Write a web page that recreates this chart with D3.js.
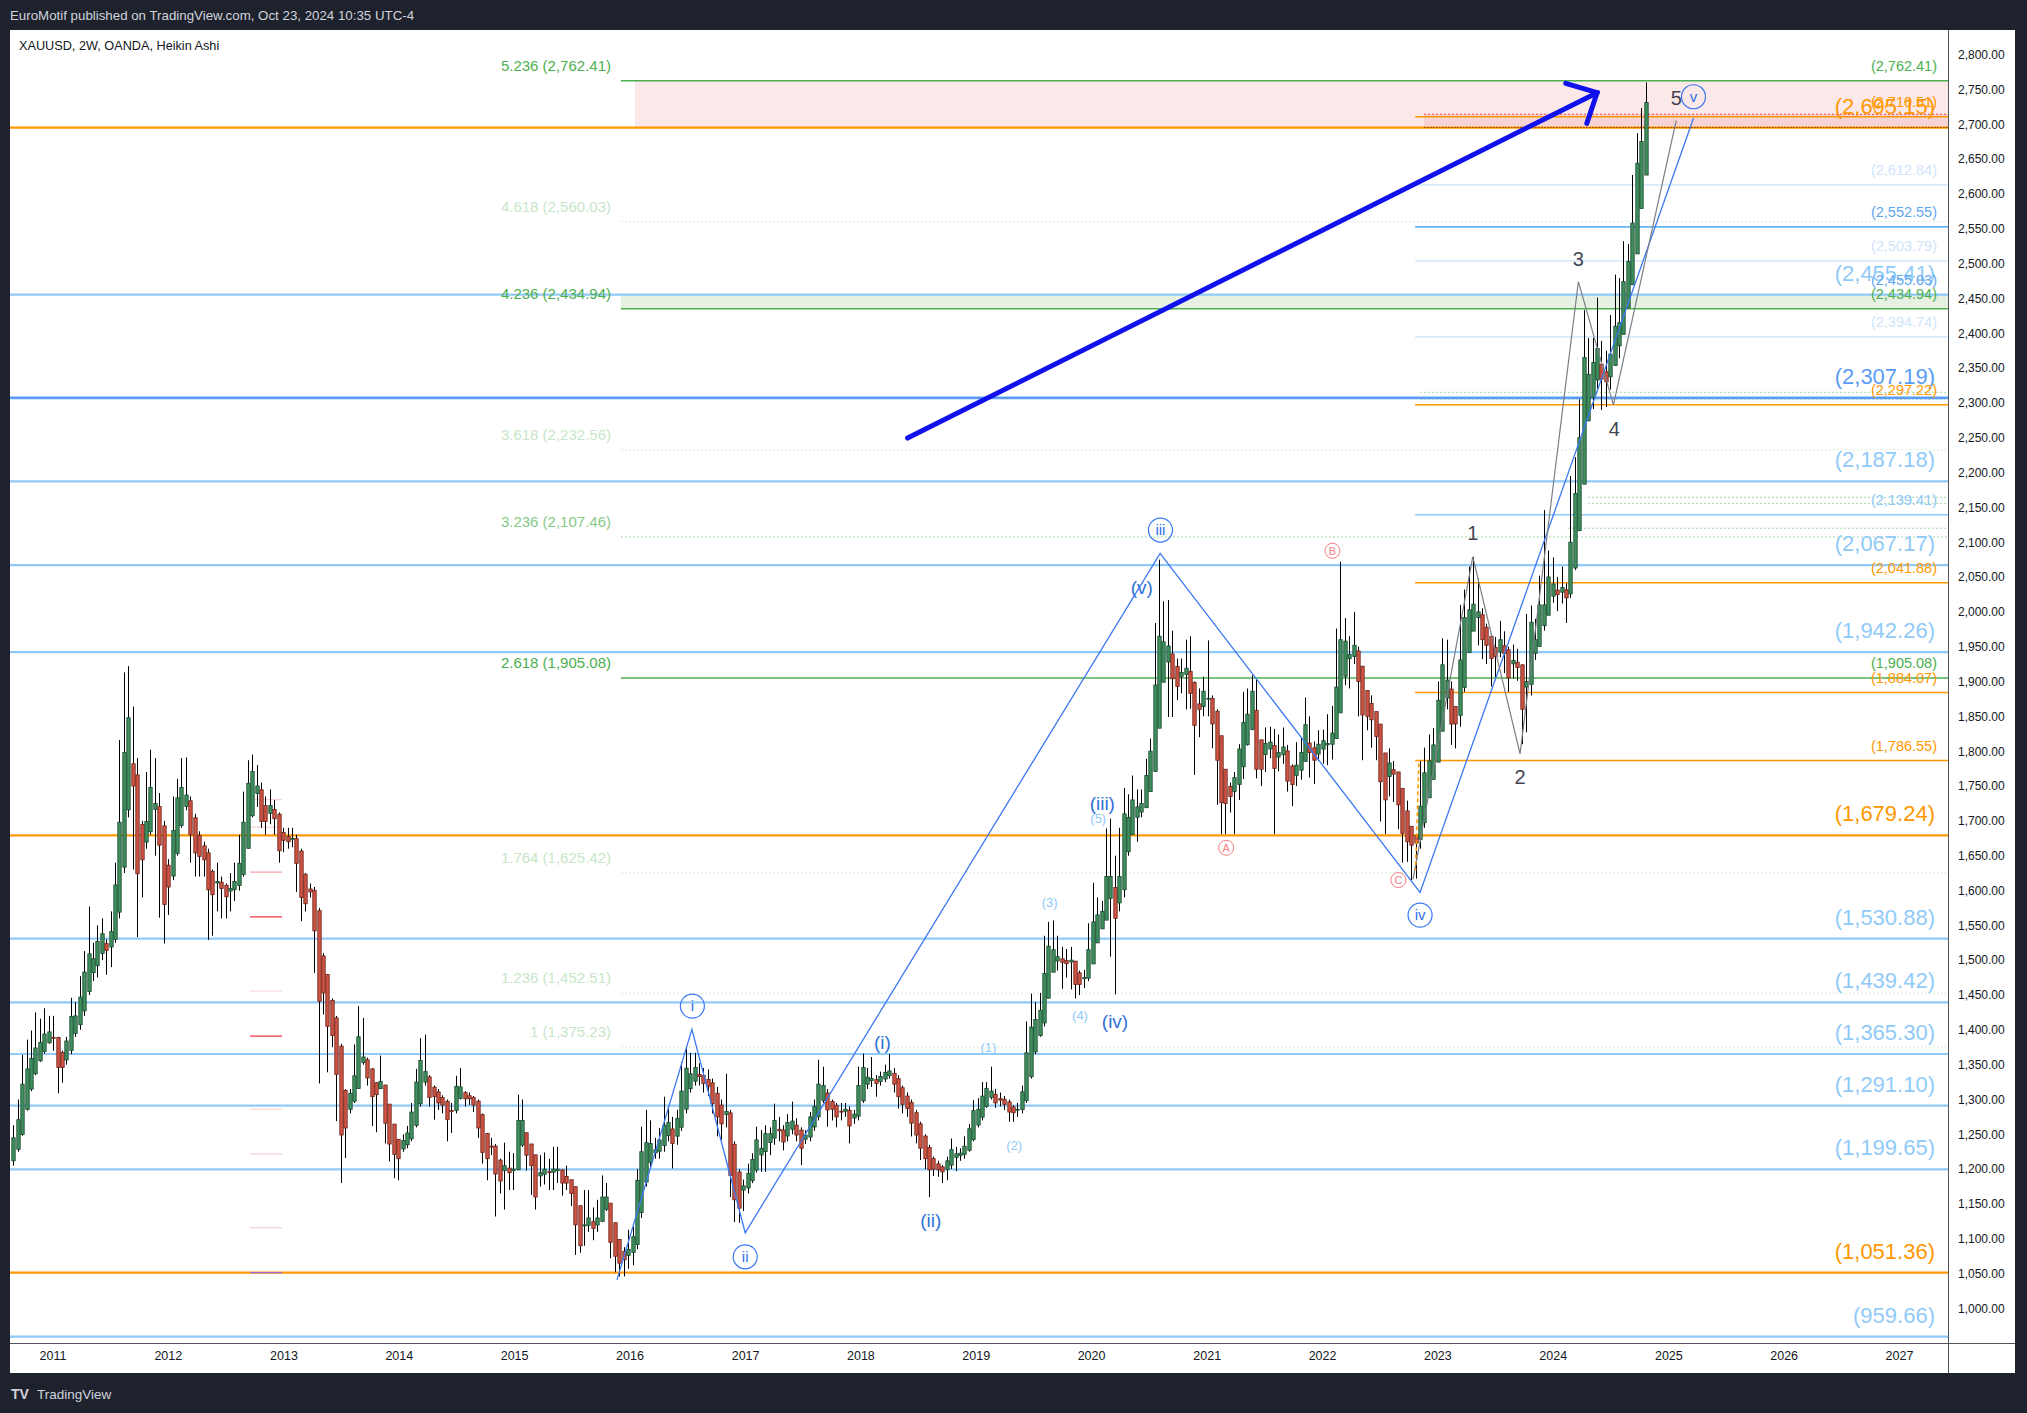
<!DOCTYPE html>
<html><head><meta charset="utf-8">
<script src="https://cdnjs.cloudflare.com/ajax/libs/d3/7.8.5/d3.min.js"></script>
<style>html,body{margin:0;padding:0;background:#1e222d;}svg{display:block;}</style>
</head><body>
<svg id="c" width="2027" height="1413"></svg>
<script>
// ---------------- DATA ----------------
const barStartDate = "2010-08-30";      // first 2-week Heikin Ashi bar
const firstOpen = 1212;
const haClose = [
1245,1271,1322,1344,1359,1374,1382,1394,1397,1389,
1346,1346,1384,1419,1420,1447,1483,1509,1502,1527,
1538,1514,1541,1608,1698,1798,1848,1750,1624,1644,
1699,1748,1725,1665,1580,1605,1686,1733,1748,1737,
1680,1654,1649,1644,1601,1594,1613,1603,1591,1603,
1613,1639,1698,1754,1771,1750,1699,1699,1722,1703,
1657,1672,1670,1675,1639,1590,1581,1598,1542,1441,
1453,1405,1392,1336,1249,1259,1309,1334,1390,1361,
1331,1304,1307,1326,1266,1236,1221,1215,1241,1252,
1282,1325,1356,1340,1303,1304,1295,1292,1271,1284,
1319,1318,1301,1301,1292,1259,1224,1215,1233,1193,
1183,1205,1195,1200,1270,1270,1220,1205,1160,1195,
1200,1195,1200,1200,1180,1180,1165,1120,1090,1120,
1130,1115,1130,1160,1160,1095,1075,1065,1070,1085,
1103,1184,1225,1238,1237,1228,1242,1263,1267,1237,
1273,1312,1345,1337,1346,1333,1323,1319,1294,1275,
1265,1283,1191,1156,1144,1176,1194,1214,1242,1230,
1251,1251,1270,1255,1239,1267,1269,1249,1230,1249,
1275,1290,1322,1320,1285,1286,1275,1283,1286,1262,
1279,1320,1346,1332,1330,1323,1333,1339,1341,1322,
1304,1293,1287,1266,1249,1230,1215,1199,1200,1199,
1196,1212,1228,1222,1223,1233,1258,1284,1286,1305,
1316,1312,1295,1299,1293,1282,1281,1286,1311,1367,
1404,1415,1428,1481,1520,1515,1505,1497,1495,1500,
1465,1465,1475,1515,1555,1565,1570,1620,1620,1560,
1620,1710,1705,1730,1720,1725,1765,1800,1895,1965,
1957,1951,1904,1893,1913,1919,1883,1837,1860,1886,
1876,1839,1787,1726,1725,1735,1762,1803,1841,1853,
1886,1774,1774,1811,1813,1775,1798,1806,1757,1752,
1780,1798,1838,1798,1787,1810,1815,1811,1826,1892,
1960,1958,1939,1952,1900,1852,1850,1845,1821,1756,
1730,1783,1767,1723,1682,1670,1665,1668,1721,1769,
1786,1809,1873,1924,1902,1839,1839,1931,1992,2003,
2011,2000,1960,1952,1933,1936,1960,1940,1905,1930,
1920,1860,1900,1985,1960,2010,2010,2050,2040,2025,
2035,2020,2100,2170,2250,2365,2341,2358,2378,2334,
2330,2370,2410,2415,2474,2503,2558,2644,2675,2731];
const haHigh = [
1263,1300,1364,1386,1399,1425,1416,1431,1420,1420,
1390,1370,1390,1446,1440,1477,1513,1577,1525,1550,
1560,1530,1570,1640,1816,1913,1922,1864,1790,1700,
1770,1802,1790,1740,1700,1645,1735,1760,1790,1791,
1735,1710,1685,1670,1660,1630,1640,1620,1610,1625,
1640,1680,1742,1787,1795,1780,1755,1735,1745,1730,
1712,1690,1690,1690,1680,1660,1625,1610,1605,1575,
1510,1480,1445,1420,1380,1315,1315,1379,1434,1417,
1360,1345,1325,1363,1321,1293,1265,1243,1250,1262,
1295,1344,1388,1393,1335,1320,1315,1306,1300,1295,
1334,1345,1312,1310,1305,1300,1280,1252,1245,1236,
1215,1238,1225,1223,1307,1300,1252,1236,1220,1220,
1224,1215,1232,1232,1200,1205,1185,1175,1148,1170,
1170,1145,1156,1191,1180,1151,1123,1099,1088,1113,
1117,1200,1261,1285,1270,1245,1259,1304,1290,1275,
1285,1354,1376,1367,1367,1352,1345,1343,1330,1318,
1300,1337,1285,1240,1200,1185,1208,1223,1261,1256,
1263,1260,1294,1275,1263,1279,1297,1273,1260,1256,
1282,1300,1357,1347,1315,1300,1295,1295,1295,1290,
1285,1347,1366,1345,1361,1335,1340,1350,1365,1345,
1335,1320,1310,1300,1285,1268,1250,1235,1218,1212,
1206,1218,1244,1232,1230,1247,1265,1299,1302,1325,
1325,1347,1315,1310,1305,1300,1292,1295,1320,1412,
1452,1440,1453,1535,1555,1557,1535,1519,1516,1519,
1498,1485,1486,1553,1611,1590,1585,1689,1703,1650,
1690,1747,1738,1765,1745,1745,1789,1818,1984,2075,
2015,2017,1973,1933,1933,1960,1965,1900,1890,1907,
1959,1880,1860,1816,1760,1755,1770,1810,1885,1890,
1909,1903,1800,1834,1835,1832,1824,1834,1809,1781,
1813,1819,1877,1850,1814,1830,1831,1853,1865,1976,
2072,1991,1965,2000,1950,1880,1870,1880,1847,1814,
1767,1804,1786,1750,1735,1729,1682,1680,1786,1805,
1824,1833,1900,1962,1960,1900,1858,2010,2032,2065,
2079,2048,2005,1983,1960,1964,1987,1972,1950,1953,
1947,1925,1997,2009,1990,2052,2146,2088,2078,2050,
2065,2041,2195,2222,2305,2433,2393,2393,2451,2389,
2375,2426,2484,2479,2532,2528,2627,2687,2723,2760];
const haLow = [
1205,1225,1248,1284,1312,1335,1354,1366,1380,1370,
1309,1324,1350,1365,1390,1400,1420,1450,1470,1475,
1500,1479,1490,1525,1560,1625,1705,1630,1533,1590,
1660,1680,1650,1561,1524,1565,1615,1650,1690,1715,
1640,1620,1620,1620,1529,1535,1570,1560,1560,1570,
1585,1600,1620,1660,1705,1720,1690,1680,1695,1680,
1640,1655,1660,1662,1598,1556,1570,1590,1482,1323,
1422,1339,1375,1269,1180,1216,1280,1295,1316,1350,
1320,1262,1253,1315,1237,1211,1187,1184,1225,1230,
1240,1260,1290,1320,1290,1271,1285,1280,1240,1252,
1280,1300,1290,1292,1282,1245,1208,1184,1220,1132,
1165,1142,1170,1170,1199,1232,1198,1163,1142,1175,
1178,1170,1170,1180,1162,1170,1147,1077,1080,1090,
1110,1098,1110,1125,1140,1072,1052,1046,1046,1057,
1062,1085,1130,1175,1203,1215,1215,1225,1240,1201,
1235,1255,1280,1310,1320,1320,1310,1305,1280,1247,
1242,1260,1160,1124,1123,1140,1165,1180,1195,1196,
1196,1220,1235,1240,1227,1240,1250,1240,1206,1236,
1240,1255,1270,1295,1261,1270,1260,1270,1275,1237,
1265,1270,1295,1315,1318,1304,1320,1325,1330,1310,
1287,1280,1275,1247,1237,1213,1200,1160,1190,1189,
1180,1184,1200,1197,1212,1215,1225,1240,1260,1270,
1288,1300,1288,1290,1285,1268,1268,1275,1280,1295,
1330,1365,1390,1405,1445,1485,1485,1459,1475,1458,
1445,1450,1460,1470,1495,1535,1547,1563,1505,1451,
1570,1590,1650,1690,1670,1705,1720,1745,1770,1835,
1900,1849,1849,1873,1883,1860,1861,1766,1820,1850,
1850,1804,1723,1681,1681,1712,1681,1730,1760,1808,
1830,1761,1750,1770,1790,1681,1771,1782,1742,1721,
1750,1759,1790,1762,1753,1786,1782,1780,1788,1830,
1860,1895,1890,1925,1850,1787,1830,1805,1787,1699,
1681,1735,1727,1688,1640,1641,1615,1617,1660,1690,
1740,1770,1795,1830,1860,1809,1804,1835,1885,1960,
1975,1952,1932,1925,1893,1902,1935,1912,1885,1904,
1901,1810,1827,1880,1931,1960,1973,2005,2013,2001,
2012,1984,2020,2060,2135,2190,2277,2291,2320,2290,
2294,2319,2353,2364,2398,2436,2470,2514,2579,2627];

const yearTicks = [2011,2012,2013,2014,2015,2016,2017,2018,2019,2020,2021,2022,2023,2024,2025,2026,2027];
const priceTicks = [1000,1050,1100,1150,1200,1250,1300,1350,1400,1450,1500,1550,1600,1650,1700,1750,1800,1850,1900,1950,2000,2050,2100,2150,2200,2250,2300,2350,2400,2450,2500,2550,2600,2650,2700,2750,2800];

// full-width horizontal levels
const lightBlueLevels = [2455.41,2187.18,2067.17,1942.26,1530.88,1439.42,1365.30,1291.10,1199.65,959.66];
const midBlueLevels = [2307.19];
const orangeLevels = [2695.15,1679.24,1051.36];
// fibonacci extension (left labels)
const fibRatio = ["5.236","4.618","4.236","3.618","3.236","2.618","1.764","1.236","1"];
const fibPrice = [2762.41,2560.03,2434.94,2232.56,2107.46,1905.08,1625.42,1452.51,1375.23];
const fibStartYear = 2015.926;
// right-side short levels
const rightStartYear = 2022.807;
const rightOrange = [2710.51,2297.22,2041.88,1884.07,1786.55];
const rightBlue = [2552.55];
const rightLightBlue = [2139.41];
const rightPale = [2612.84,2503.79,2394.74];
const rightGreenLabels = [2762.41,2434.94,1905.08];
const rightBlueLabelOnly = [2455.03];
const greenDottedPrice = [2315.1,2305.5,2164.4,2155.8,2120.0];
const greenDottedStart = [2022.85,2022.85,2024.306,2024.306,2024.133];
// zones
const pinkZone = {t0:2016.048, p0:2762.41, p1:2695.15};
const darkPinkZone = {t0:2022.885, p0:2714.2, p1:2695.15};
const greenZone = {t0:2015.926, p0:2455.41, p1:2434.94};
// small red price marks on the left
const redMarkPrice = [1730.5,1691,1626.5,1562,1455.7,1391,1286,1222,1116,1051.4];
const redMarkStrength = [0,0,1,2,0,2,0,0,0,3];
const redMarkT = [2012.711,2012.988];

// Elliott wave drawings (decimal year, price)
const blueWaveT = [2015.892,2016.540,2017.001,2020.597,2022.850,2025.218];
const blueWaveP = [1041,1400.6,1108.7,2084,1597.3,2708.4];
const circleText = ["i","ii","iii","iv","v"];
const circleT = [2016.544,2017.001,2020.600,2022.850,2025.218];
const circleP = [1434.1,1074.2,2117.4,1564.7,2739.4];
const grayWaveT = [2022.789,2023.307,2023.717,2024.222,2024.525,2025.068];
const grayWaveP = [1616,2079,1796,2474,2297,2705];
const grayText = ["1","2","3","4","5"];
const grayTextT = [2023.307,2023.717,2024.222,2024.533,2025.068];
const grayTextP = [2113,1763,2506,2262,2737];
const minorText = ["(v)","(iii)","(iv)","(i)","(ii)"];
const minorT = [2020.438,2020.097,2020.207,2018.191,2018.610];
const minorP = [2035.2,1725.1,1412.6,1382.8,1126.9];
const subText = ["(5)","(4)","(1)","(2)","(3)"];
const subT = [2020.062,2019.904,2019.109,2019.334,2019.641];
const subP = [1703.5,1421.2,1374.8,1234.5,1583];
const abcText = ["A","B","C"];
const abcT = [2021.169,2022.090,2022.662];
const abcP = [1661.3,2087.7,1615];
const orangeDashT = [2022.839,2022.811];
const orangeDashP = [1782.5,1629.4];
const arrowT = [2018.409,2024.384];
const arrowP = [2249.5,2745.2];
const arrowHeadT = [2024.113,2024.384,2024.295];
const arrowHeadP = [2758.7,2745.2,2701.2];

// ---------------- DRAWING ----------------
const FONT = "'Liberation Sans', Arial, sans-serif";
const svg = d3.select("#c");
const P = {l:10, r:1948, t:30, b:1343};
function yr(d){const y0=Math.floor(d);const a=Date.UTC(y0,0,1),b=Date.UTC(y0+1,0,1);return new Date(a+(d-y0)*(b-a));}
const x = d3.scaleUtc().domain([yr(2011), yr(2027)]).range([52.5, 1899]);
const y = d3.scaleLinear().domain([2762.41, 1051.36]).range([80.7, 1272.7]);
const fmt = d3.format(",.2f");

svg.append("rect").attr("width",2027).attr("height",1413).attr("fill","#1e222d");
svg.append("rect").attr("x",10).attr("y",30).attr("width",2005).attr("height",1343).attr("fill","#ffffff");

const defs = svg.append("defs");
defs.append("clipPath").attr("id","plotclip").append("rect")
  .attr("x",P.l).attr("y",P.t).attr("width",P.r-P.l).attr("height",P.b-P.t);
const g = svg.append("g").attr("clip-path","url(#plotclip)");

// zones
function zone(z, fill){
  g.append("rect").attr("x",x(yr(z.t0))).attr("y",y(z.p0))
   .attr("width",P.r - x(yr(z.t0))).attr("height",y(z.p1)-y(z.p0)).attr("fill",fill);
}
zone(pinkZone,"#fbe8e9");
zone(darkPinkZone,"#f6d3d4");
zone(greenZone,"#e6f1e1");

function hline(p, x0, color, w, dash){
  const l = g.append("line").attr("x1",x0).attr("x2",P.r).attr("y1",y(p)).attr("y2",y(p))
    .attr("stroke",color).attr("stroke-width",w);
  if(dash) l.attr("stroke-dasharray",dash);
}
// fib lines
const fibStrength = r => ["5.236","4.236","2.618"].includes(r) ? 2 : (r==="3.236" ? 1 : 0);
fibPrice.forEach((p,i)=>{
  const s = fibStrength(fibRatio[i]);
  if(s===2) hline(p, x(yr(fibStartYear)), "#4caf50", 1.5);
  else hline(p, x(yr(fibStartYear)), s===1?"#a5d6a7":"#d7ecd8", 1, "2,2");
});
greenDottedPrice.forEach((p,i)=> hline(p, x(yr(greenDottedStart[i])), "#a5d6a7", 1, "2,2"));
// right short lines
const rx0 = x(yr(rightStartYear));
rightPale.forEach(p=>hline(p, rx0, "#d8eafc", 1.6));
rightBlue.forEach(p=>hline(p, rx0, "#64b5f6", 1.6));
rightLightBlue.forEach(p=>hline(p, rx0, "#90caf9", 1.6));
rightOrange.forEach(p=>hline(p, rx0, "#ff9800", 1.5));
hline(darkPinkZone.p0, x(yr(darkPinkZone.t0)), "#f23645", 1, "2,2");
// full width lines
lightBlueLevels.forEach(p=>hline(p, P.l, "#90caf9", 2.2));
midBlueLevels.forEach(p=>hline(p, P.l, "#5b9cf6", 2.6));
orangeLevels.forEach(p=>hline(p, P.l, "#ff9800", 2.2));
hline(2695.15, x(yr(darkPinkZone.t0)), "#8a3b00", 1, "1.5,1.5");

// red marks
redMarkPrice.forEach((p,i)=>{
  const c = ["#fbd0d3","#f7a3a8","#f23645","#9c6ad0"][redMarkStrength[i]];
  g.append("line").attr("x1",x(yr(redMarkT[0]))).attr("x2",x(yr(redMarkT[1])))
   .attr("y1",y(p)).attr("y2",y(p)).attr("stroke",c).attr("stroke-width",1.2);
});

// Heikin Ashi candles
const t0 = new Date(barStartDate+"T00:00:00Z");
const bars = haClose.map((c,i)=>({t:d3.utcDay.offset(t0,14*i), c}));
bars.forEach((b,i)=>{
  b.o = i===0 ? firstOpen : (bars[i-1].o + bars[i-1].c)/2;
  b.h = Math.max(haHigh[i], b.o, b.c);
  b.l = Math.min(haLow[i], b.o, b.c);
});
const cg = g.append("g");
cg.selectAll("line.w").data(bars).join("line")
  .attr("x1",d=>Math.round(x(d.t))+0.5).attr("x2",d=>Math.round(x(d.t))+0.5)
  .attr("y1",d=>y(d.h)).attr("y2",d=>y(d.l)).attr("stroke","#000").attr("stroke-width",1);
cg.selectAll("rect.b").data(bars).join("rect")
  .attr("x",d=>Math.round(x(d.t))+0.5-1.7).attr("width",3.4)
  .attr("y",d=>y(Math.max(d.o,d.c))).attr("height",d=>Math.max(1,Math.abs(y(d.o)-y(d.c))))
  .attr("fill",d=>d.c>=d.o?"#3e8e5e":"#cc5444")
  .attr("stroke",d=>d.c>=d.o?"#1a4a30":"#6e2419").attr("stroke-width",0.8);

// waves
const line = d3.line().x(d=>x(yr(d[0]))).y(d=>y(d[1]));
g.append("path").attr("d",line(blueWaveT.map((t,i)=>[t,blueWaveP[i]])))
  .attr("fill","none").attr("stroke","#3a78f2").attr("stroke-width",1.3);
g.append("path").attr("d",line(grayWaveT.map((t,i)=>[t,grayWaveP[i]])))
  .attr("fill","none").attr("stroke","#7b7e87").attr("stroke-width",1.2);
g.append("path").attr("d",line(orangeDashT.map((t,i)=>[t,orangeDashP[i]])))
  .attr("fill","none").attr("stroke","#ff9800").attr("stroke-width",1.5).attr("stroke-dasharray","4,3");
// arrow
g.append("path").attr("d",line(arrowT.map((t,i)=>[t,arrowP[i]])))
  .attr("fill","none").attr("stroke","#1111ee").attr("stroke-width",5).attr("stroke-linecap","round");
g.append("path").attr("d",line(arrowHeadT.map((t,i)=>[t,arrowHeadP[i]])))
  .attr("fill","none").attr("stroke","#1111ee").attr("stroke-width",5).attr("stroke-linecap","round").attr("stroke-linejoin","miter");

// labels group
const lg = svg.append("g").attr("font-family",FONT);
// left fib labels
fibPrice.forEach((p,i)=>{
  const s = fibStrength(fibRatio[i]);
  lg.append("text").attr("x",x(yr(2015.840))).attr("y",y(p)-10).attr("text-anchor","end")
    .attr("font-size",15).attr("fill",s===2?"#4caf50":(s===1?"#86c988":"#c8e6c9"))
    .text(fibRatio[i]+" ("+fmt(p)+")");
});
// big right labels
function bigLabel(p,color){
  lg.append("text").attr("x",P.r-13).attr("y",y(p)-14).attr("text-anchor","end")
    .attr("font-size",22).attr("fill",color).text("("+fmt(p)+")");
}
lightBlueLevels.forEach(p=>bigLabel(p,"#90caf9"));
midBlueLevels.forEach(p=>bigLabel(p,"#5b9cf6"));
orangeLevels.forEach(p=>bigLabel(p,"#ff9800"));
function smallLabel(p,color){
  lg.append("text").attr("x",P.r-11).attr("y",y(p)-10).attr("text-anchor","end")
    .attr("font-size",14.5).attr("fill",color).text("("+fmt(p)+")");
}
rightPale.forEach(p=>smallLabel(p,"#d0e5fb"));
rightBlue.forEach(p=>smallLabel(p,"#5fa8ee"));
rightBlueLabelOnly.forEach(p=>smallLabel(p,"#5fa8ee"));
rightLightBlue.forEach(p=>smallLabel(p,"#90caf9"));
rightOrange.forEach(p=>smallLabel(p,"#ff9800"));
rightGreenLabels.forEach(p=>smallLabel(p,"#4caf50"));

// wave labels
minorText.forEach((s,i)=>lg.append("text").attr("x",x(yr(minorT[i]))).attr("y",y(minorP[i])+7)
  .attr("text-anchor","middle").attr("font-size",19).attr("fill","#2f72d8").text(s));
subText.forEach((s,i)=>lg.append("text").attr("x",x(yr(subT[i]))).attr("y",y(subP[i])+5)
  .attr("text-anchor","middle").attr("font-size",13).attr("fill","#90caf9").text(s));
grayText.forEach((s,i)=>lg.append("text").attr("x",x(yr(grayTextT[i]))).attr("y",y(grayTextP[i])+7)
  .attr("text-anchor","middle").attr("font-size",20).attr("fill","#434651").text(s));
circleText.forEach((s,i)=>{
  const cx=x(yr(circleT[i])), cy=y(circleP[i]);
  lg.append("circle").attr("cx",cx).attr("cy",cy).attr("r",12).attr("fill","none")
    .attr("stroke","#3a78f2").attr("stroke-width",1.2);
  lg.append("text").attr("x",cx).attr("y",cy+5).attr("text-anchor","middle")
    .attr("font-size",15).attr("fill","#2f6fe6").text(s);
});
abcText.forEach((s,i)=>{
  const cx=x(yr(abcT[i])), cy=y(abcP[i]);
  lg.append("circle").attr("cx",cx).attr("cy",cy).attr("r",7.5).attr("fill","none")
    .attr("stroke","#f77c80").attr("stroke-width",1);
  lg.append("text").attr("x",cx).attr("y",cy+4).attr("text-anchor","middle")
    .attr("font-size",11).attr("fill","#f77c80").text(s);
});

// axes
svg.append("line").attr("x1",P.r+0.5).attr("x2",P.r+0.5).attr("y1",30).attr("y2",1373).attr("stroke","#50535e");
svg.append("line").attr("x1",10).attr("x2",2015).attr("y1",P.b+0.5).attr("y2",P.b+0.5).attr("stroke","#50535e");
const ya = svg.append("g").attr("transform",`translate(${P.r},0)`)
  .call(d3.axisRight(y).tickValues(priceTicks).tickFormat(fmt).tickSize(0).tickPadding(10));
ya.select(".domain").remove();
ya.selectAll("text").attr("font-family",FONT).attr("font-size",12).attr("fill","#131722");
const xa = svg.append("g").attr("transform",`translate(0,${P.b})`)
  .call(d3.axisBottom(x).tickValues(yearTicks.map(yr)).tickFormat(d3.utcFormat("%Y")).tickSize(0).tickPadding(8));
xa.select(".domain").remove();
xa.selectAll("text").attr("font-family",FONT).attr("font-size",12.5).attr("fill","#131722");

// header / footer
svg.append("text").attr("x",10).attr("y",20).attr("font-family",FONT).attr("font-size",13.3)
  .attr("fill","#d1d4dc").text("EuroMotif published on TradingView.com, Oct 23, 2024 10:35 UTC-4");
svg.append("text").attr("x",19).attr("y",50).attr("font-family",FONT).attr("font-size",12.7)
  .attr("fill","#131722").text("XAUUSD, 2W, OANDA, Heikin Ashi");
svg.append("text").attr("x",11).attr("y",1399).attr("font-family",FONT).attr("font-size",14)
  .attr("font-weight","bold").attr("fill","#d1d4dc").text("TV");
svg.append("text").attr("x",37).attr("y",1399).attr("font-family",FONT).attr("font-size",13.5)
  .attr("fill","#d1d4dc").text("TradingView");
</script>
</body></html>
